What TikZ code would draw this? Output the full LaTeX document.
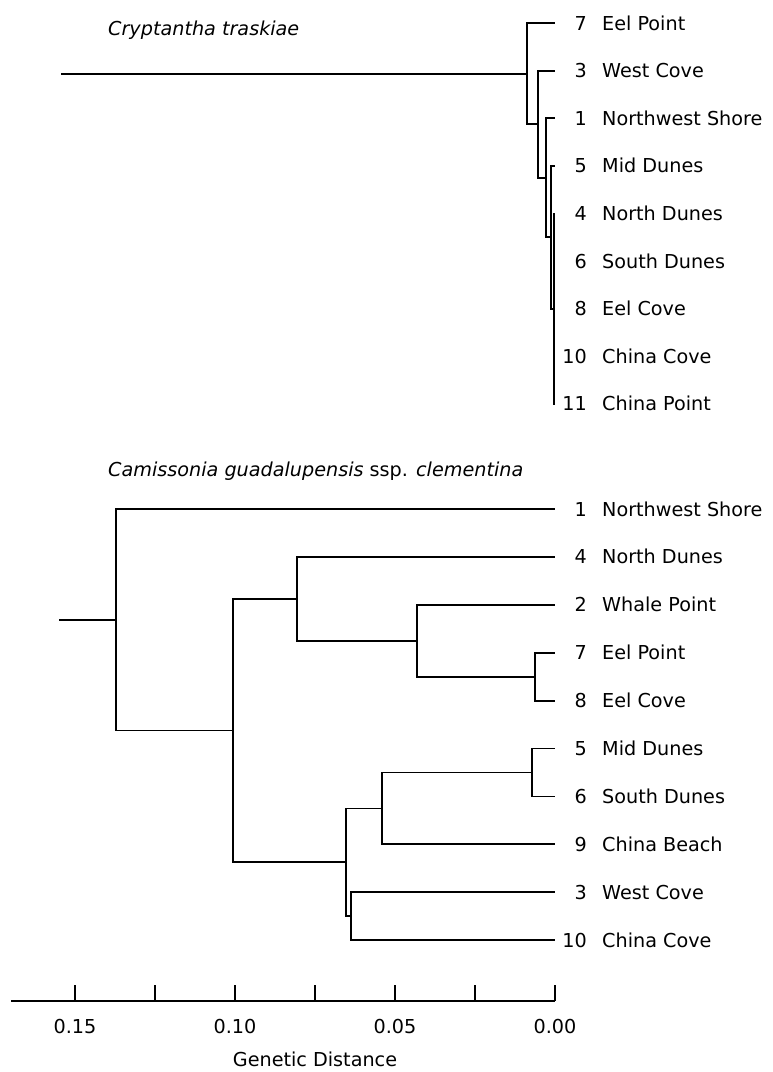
\documentclass[tikz,border=0pt]{standalone}
\usepackage{fontspec}
\setmainfont{DejaVu Sans}
\begin{document}
\begin{tikzpicture}[x=1pt,y=-1pt,
  br/.style={line width=1.8pt,line join=miter},
  lbl/.style={inner sep=0pt,font=\fontsize{19.2}{23}\selectfont},
  num/.style={lbl,anchor=base east},
  nam/.style={lbl,anchor=base west},
  ttl/.style={lbl,anchor=base west},
  ticklbl/.style={lbl,anchor=base}]
\useasboundingbox (0,0) rectangle (772,1072);
\fill[white] (0,0) rectangle (772,1072);

% ---------- top tree: Cryptantha traskiae ----------
\node[ttl] (title1) at (108,35) {\itshape Cryptantha traskiae};
\foreach \n/\i in {t7/0, t3/1, t1/2, t5/3, t4/4, t6/5, t8/6, t10/7, t11/8}{
  \coordinate (\n) at (555,{23+47.6*\i});
}
\foreach \n/\i/\num/\name in {t7/0/7/Eel Point, t3/1/3/West Cove, t1/2/1/Northwest Shore, t5/3/5/Mid Dunes,
  t4/4/4/North Dunes, t6/5/6/South Dunes, t8/6/8/Eel Cove, t10/7/10/China Cove, t11/8/11/China Point}{
  \node[num] (\n n) at (587,{23+47.6*\i+7}) {\num};
  \node[nam] (\n l) at (602,{23+47.6*\i+7}) {\name};
}
\coordinate (tE) at (554,308.6);
\coordinate (tD) at (551,237.2);
\coordinate (tC) at (546,177.7);
\coordinate (tB) at (538,124.2);
\coordinate (tA) at (527,73.6);
\coordinate (troot) at (61,73.6);
\draw[br] (tE) |- (t4) (tE) |- (t6) (tE) |- (t8) (tE) |- (t10) (tE) |- (t11);
\draw[br] (tD) |- (t5) (tD) |- (tE);
\draw[br] (tC) |- (t1) (tC) |- (tD);
\draw[br] (tB) |- (t3) (tB) |- (tC);
\draw[br] (tA) |- (t7) (tA) |- (tB);
\draw[br] (troot) -- (tA);

% ---------- bottom tree: Camissonia ----------
\node[ttl] (title2) at (108,476) {\itshape Camissonia guadalupensis\upshape\ ssp. \itshape clementina};
\foreach \n/\i/\num/\name in {b1/0/1/Northwest Shore, b4/1/4/North Dunes, b2/2/2/Whale Point,
  b7/3/7/Eel Point, b8/4/8/Eel Cove, b5/5/5/Mid Dunes, b6/6/6/South Dunes, b9/7/9/China Beach,
  b3/8/3/West Cove, b10/9/10/China Cove}{
  \coordinate (\n) at (555,{509+47.9*\i});
  \node[num] (\n n) at (587,{509+47.9*\i+7}) {\num};
  \node[nam] (\n l) at (602,{509+47.9*\i+7}) {\name};
}
\coordinate (bV) at (535,676.65);
\coordinate (bU) at (417,640.7);
\coordinate (bT) at (297,598.8);
\coordinate (bW) at (532,772.45);
\coordinate (bX) at (382,808.4);
\coordinate (bZ) at (351,916.15);
\coordinate (bY) at (346,862.3);
\coordinate (bS) at (233,730.5);
\coordinate (bR) at (116,619.8);
\coordinate (broot) at (59,619.8);
\draw[br] (bV) |- (b7) (bV) |- (b8);
\draw[br] (bU) |- (b2) (bU) |- (bV);
\draw[br] (bT) |- (b4) (bT) |- (bU);
\draw[br] (bW) |- (b5) (bW) |- (b6);
\draw[br] (bX) |- (bW) (bX) |- (b9);
\draw[br] (bZ) |- (b3) (bZ) |- (b10);
\draw[br] (bY) |- (bX) (bY) |- (bZ);
\draw[br] (bS) |- (bT) (bS) |- (bY);
\draw[br] (bR) |- (b1) (bR) |- (bS);
\draw[br] (broot) -- (bR);

% ---------- axis ----------
\coordinate (axL) at (11,1001);
\coordinate (axR) at (555,1001);
\draw[br] (axL) -- (axR);
\foreach \k in {0,...,6}{
  \coordinate (tk\k) at ({555-80*\k},1001);
  \coordinate (tt\k) at ({555-80*\k},985);
  \draw[br] (tk\k) -- (tt\k);
}
\node[ticklbl] (l15) at (75,1033) {0.15};
\node[ticklbl] (l10) at (235,1033) {0.10};
\node[ticklbl] (l05) at (395,1033) {0.05};
\node[ticklbl] (l00) at (555,1033) {0.00};
\node[ticklbl] (gd) at (315,1066) {Genetic Distance};
\end{tikzpicture}
\end{document}
